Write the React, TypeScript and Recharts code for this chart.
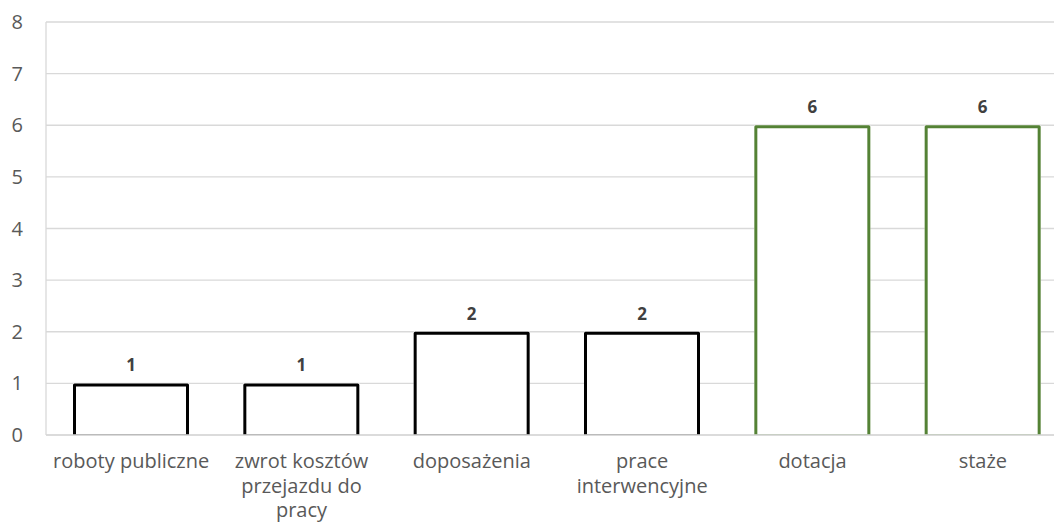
import React from "react";
import { BarChart, Bar, XAxis, YAxis, CartesianGrid, Cell, LabelList } from "recharts";

const categories = [
  "roboty publiczne",
  "zwrot kosztów\nprzejazdu do\npracy",
  "doposażenia",
  "prace\ninterwencyjne",
  "dotacja",
  "staże",
];
const values = [1, 1, 2, 2, 6, 6];
const yTicks = [0, 1, 2, 3, 4, 5, 6, 7, 8];

const strokeColors = ["#000000", "#000000", "#000000", "#000000", "#548235", "#548235"];

const data = categories.map((name, i) => ({ name, value: values[i], color: strokeColors[i] }));

const FONT = "'Open Sans', 'Liberation Sans', sans-serif";

const OpenBar = (props: any) => {
  const { x, y, width, height, payload } = props;
  const c = payload.color;
  const h = 1.5;
  return (
    <g>
      <rect x={x} y={y} width={width} height={height} fill="#ffffff" />
      <path
        d={`M${x + h},${y + height} L${x + h},${y + h} L${x + width - h},${y + h} L${x + width - h},${y + height}`}
        fill="none"
        stroke={c}
        strokeWidth={3}
        strokeLinejoin="round"
      />
      <line x1={x} x2={x + width} y1={y + height - 0.5} y2={y + height - 0.5} stroke={c} strokeWidth={1} strokeOpacity={0.6} />
    </g>
  );
};

const CatTick = (props: any) => {
  const { x, payload } = props;
  const lines = String(payload.value).split("\n");
  return (
    <g transform={`translate(${x},435)`}>
      {lines.map((l, i) => (
        <text
          key={i}
          x={0}
          y={0}
          dy={i * 24.5 + 33}
          textAnchor="middle"
          fill="#595959"
          fontSize={20}
          fontFamily={FONT}
        >
          {l}
        </text>
      ))}
    </g>
  );
};

export default function App() {
  return (
    <div style={{ position: "absolute", left: 0, top: 0, width: 1054, height: 523, overflow: "hidden", background: "#fff" }}>
      <BarChart
        width={1070}
        height={523}
        data={data}
        margin={{ top: 22, right: 2, bottom: 0, left: 0 }}
        barSize={116}
      >
        <CartesianGrid vertical={false} stroke="#d9d9d9" strokeWidth={1.3} />
        <XAxis
          dataKey="name"
          interval={0}
          tick={<CatTick />}
          tickLine={false}
          axisLine={{ stroke: "#d9d9d9", strokeWidth: 1.3 }}
          height={88}
        />
        <YAxis
          domain={[0, 8]}
          ticks={yTicks}
          width={46}
          tickLine={false}
          tickSize={0}
          tickMargin={23}
          axisLine={{ stroke: "#d9d9d9", strokeWidth: 1.3 }}
          tick={{ fill: "#595959", fontSize: 20, fontFamily: FONT }}
        />
        <Bar dataKey="value" isAnimationActive={false} shape={<OpenBar />}>
          {data.map((d, i) => (
            <Cell key={i} stroke={d.color} />
          ))}
          <LabelList
            dataKey="value"
            position="top"
            offset={12}
            fill="#404040"
            fontSize={17}
            fontWeight="bold"
            fontFamily={FONT}
          />
        </Bar>
      </BarChart>
    </div>
  );
}
